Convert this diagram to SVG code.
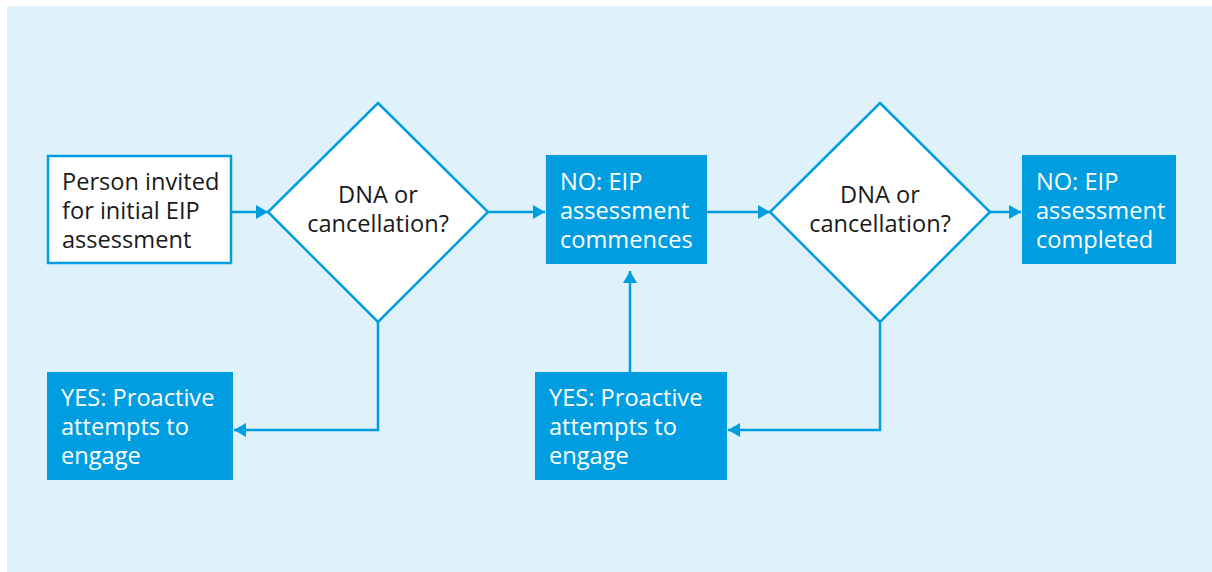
<svg xmlns="http://www.w3.org/2000/svg" width="1212" height="572" viewBox="0 0 1212 572">
<defs>
<style>
.bg{fill:#dff1fb}
.wbox{fill:#ffffff;stroke:#009ee0;stroke-width:2.5}
.bbox{fill:#009ee0}
.dia{fill:#ffffff;stroke:#009ee0;stroke-width:2.5}
.con{fill:none;stroke:#009ee0;stroke-width:2.5}
.t{font-family:"Open Sans","Noto Sans",sans-serif;font-size:23.6px;fill:#1a1a1a}
.tw{font-family:"Open Sans","Noto Sans",sans-serif;font-size:23.6px;fill:#ffffff}
.mid{text-anchor:middle}
</style>
<marker id="ah" viewBox="0 0 12 14" refX="12" refY="7" markerWidth="12" markerHeight="14" markerUnits="userSpaceOnUse" orient="auto">
<path d="M0,0 L12,7 L0,14 Z" fill="#009ee0"/>
</marker>
</defs>
<rect class="bg" x="7" y="6" width="1205" height="566"/>
<g id="connectors">
<line class="con" x1="231" y1="212" x2="268" y2="212" marker-end="url(#ah)"/>
<line class="con" x1="488" y1="212" x2="545" y2="212" marker-end="url(#ah)"/>
<line class="con" x1="707" y1="212" x2="770" y2="212" marker-end="url(#ah)"/>
<line class="con" x1="990" y1="212" x2="1021" y2="212" marker-end="url(#ah)"/>
<polyline class="con" points="378,322 378,430 234,430" marker-end="url(#ah)"/>
<polyline class="con" points="880,322 880,430 728,430" marker-end="url(#ah)"/>
<line class="con" x1="630" y1="372" x2="630" y2="271" marker-end="url(#ah)"/>
</g>
<g id="start">
<rect class="wbox" x="48" y="156" width="183" height="107"/>
<text class="t" x="62" y="190">Person invited</text>
<text class="t" x="62" y="219">for initial EIP</text>
<text class="t" x="62" y="248">assessment</text>
</g>
<g id="decision1">
<polygon class="dia" points="378,103 488,212 378,322 268,212"/>
<text class="t mid" x="378" y="203">DNA or</text>
<text class="t mid" x="378" y="232">cancellation?</text>
</g>
<g id="commences">
<rect class="bbox" x="546" y="155" width="161" height="109"/>
<text class="tw" x="560" y="190">NO: EIP</text>
<text class="tw" x="560" y="219">assessment</text>
<text class="tw" x="560" y="248">commences</text>
</g>
<g id="decision2">
<polygon class="dia" points="880,103 990,212 880,322 770,212"/>
<text class="t mid" x="880" y="203">DNA or</text>
<text class="t mid" x="880" y="232">cancellation?</text>
</g>
<g id="completed">
<rect class="bbox" x="1022" y="155" width="154" height="109"/>
<text class="tw" x="1036" y="190">NO: EIP</text>
<text class="tw" x="1036" y="219">assessment</text>
<text class="tw" x="1036" y="248">completed</text>
</g>
<g id="yes1">
<rect class="bbox" x="47" y="372" width="186" height="108"/>
<text class="tw" x="61" y="406">YES: Proactive</text>
<text class="tw" x="61" y="435">attempts to</text>
<text class="tw" x="61" y="464">engage</text>
</g>
<g id="yes2">
<rect class="bbox" x="535" y="372" width="192" height="108"/>
<text class="tw" x="549" y="406">YES: Proactive</text>
<text class="tw" x="549" y="435">attempts to</text>
<text class="tw" x="549" y="464">engage</text>
</g>
</svg>
